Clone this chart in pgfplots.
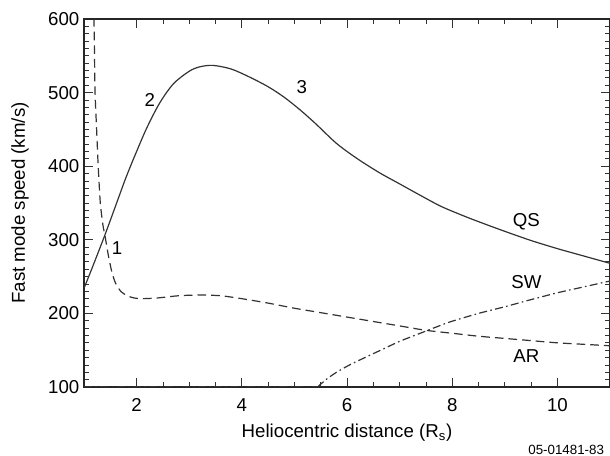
\documentclass[border=0pt]{standalone}
\usepackage{pgfplots}
\pgfplotsset{compat=1.18}
\usepackage{fontspec}
\setmainfont{Liberation Sans}
\begin{document}
\begin{tikzpicture}
\begin{axis}[
  name=ax,
  scale only axis,
  width=394.5pt, height=276pt,
  xmin=1, xmax=11, ymin=100, ymax=600,
  xtick={2,4,6,8,10}, minor x tick num=3,
  ytick={100,200,300,400,500,600}, minor y tick num=9,
  tick align=inside,
  major tick length=7pt, minor tick length=3.5pt,
  tick style={black!80, line width=0.6pt},
  axis line style={black!85, line width=0.8pt},
  /pgf/number format/assume math mode=true,
  ticklabel style={font=\fontsize{14}{16}\selectfont},
  xticklabel style={yshift=-5pt},
  label style={font=\fontsize{14}{16}\selectfont},
  xlabel={Heliocentric distance (R\textsubscript{s})},
  ylabel={Fast mode speed (km/s)},
  xlabel style={at={(rel axis cs:0.5,0)}, anchor=center, yshift=-34.5pt},
  ylabel style={at={(rel axis cs:0,0.5)}, anchor=center, yshift=48pt},
  clip=true,
]
% QS (solid)
\addplot[black!80, line width=0.9pt, smooth, tension=0.5] coordinates {
(1,234) (1.2,270) (1.4,307) (1.6,346) (1.8,385) (2.0,420) (2.2,453) (2.44,486)
(2.7,512) (3.0,529) (3.2,535) (3.45,537) (3.8,532) (4.15,521) (4.5,508) (4.8,494)
(5.1,477) (5.4,458) (5.8,431) (6.2,410) (6.62,391) (7.0,376) (7.43,359) (7.8,345) (8.27,331)
(8.6,322) (9.0,311.5) (9.5,299) (10,288) (10.5,278) (11,268)
};
% AR (dashed)
\addplot[black!80, line width=0.9pt, smooth, tension=0.4, dash pattern=on 6.5pt off 3.75pt] coordinates {
(1.185,620) (1.19,600) (1.20,550) (1.21,500) (1.24,450) (1.27,400) (1.31,350) (1.36,320)
(1.40,305) (1.46,280) (1.53,256) (1.60,241) (1.70,230) (1.82,224) (1.95,221) (2.1,220)
(2.4,221) (2.8,224) (3.2,225) (3.6,224) (4.0,220) (4.5,214) (5.0,207) (5.5,201)
(6.0,195) (6.5,189) (7.0,183) (7.5,177) (8.0,173) (8.5,169) (9.0,166) (9.5,163)
(10.0,160) (10.5,158) (11,156)
};
% SW (dash-dot)
\addplot[black!80, line width=0.9pt, dash pattern=on 6pt off 2.5pt on 1.2pt off 2.5pt] coordinates {
(1,100.6) (5.44,100.6)
};
\addplot[black!80, line width=0.9pt, smooth, tension=0.4, dash pattern=on 6pt off 2.5pt on 1.2pt off 2.5pt] coordinates {
(5.44,100) (5.6,110) (5.8,120) (6.05,130) (6.4,142) (6.67,151) (7.0,162) (7.5,176)
(7.94,188) (8.5,200) (9.0,209) (9.46,218) (10,228) (10.5,236) (11,244)
};
\node[font=\fontsize{14}{16}\selectfont] at (axis cs:1.63,289) {1};
\node[font=\fontsize{14}{16}\selectfont] at (axis cs:2.25,490) {2};
\node[font=\fontsize{14}{16}\selectfont] at (axis cs:5.14,508) {3};
\node[font=\fontsize{14}{16}\selectfont] at (axis cs:9.41,324) {QS};
\node[font=\fontsize{14}{16}\selectfont] at (axis cs:9.41,243) {SW};
\node[font=\fontsize{14}{16}\selectfont] at (axis cs:9.41,142) {AR};
\end{axis}
\node[anchor=east, font=\fontsize{10}{12}\selectfont] at ([xshift=-1pt,yshift=-47pt]ax.south east) {05-01481-83};
\pgfresetboundingbox
\path[use as bounding box] ([xshift=-63pt,yshift=-51.75pt]ax.south west) rectangle ++(457.5pt,342pt);
\end{tikzpicture}
\end{document}
